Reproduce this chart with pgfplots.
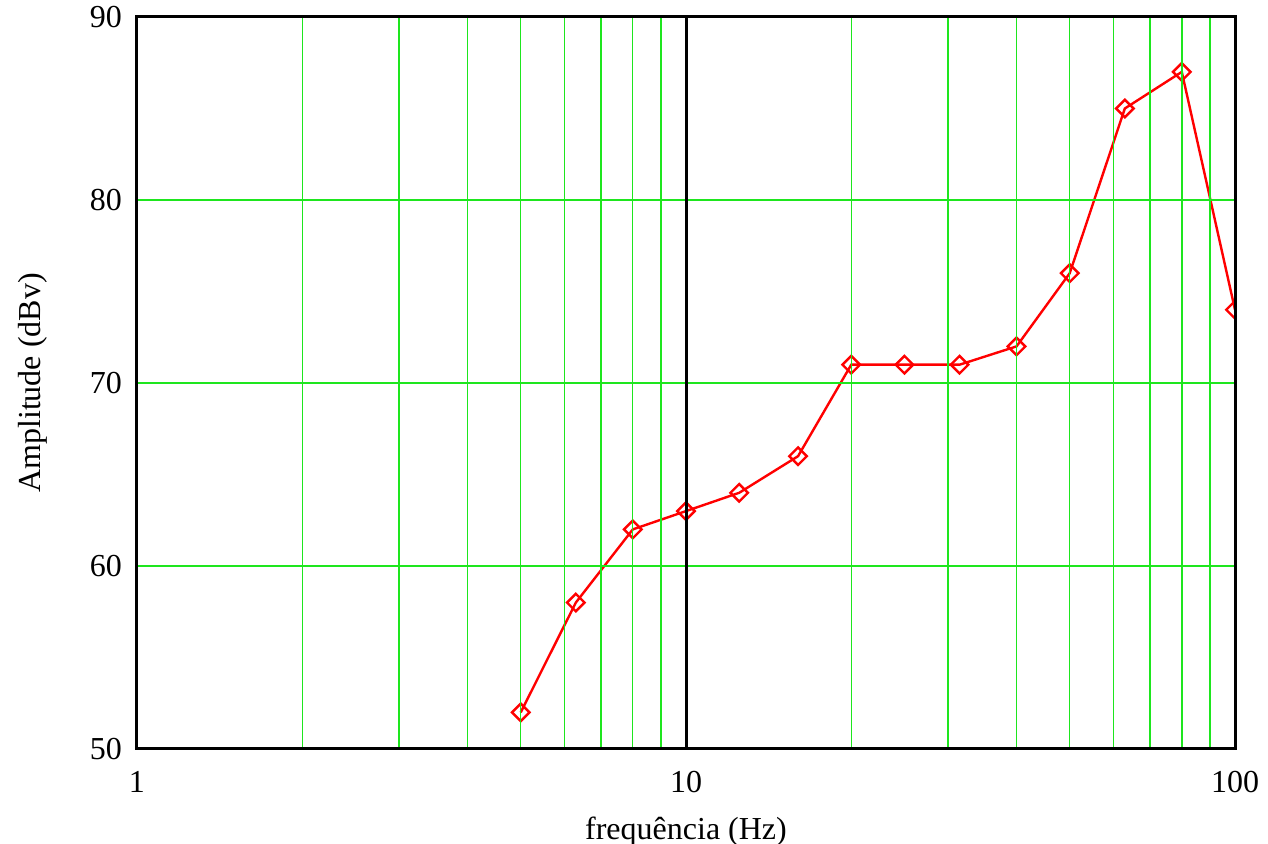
\documentclass[border=0pt]{standalone}
\usepackage{fontspec}
\setmainfont{Liberation Serif}
\usepackage{pgfplots}
\pgfplotsset{compat=1.18}
\definecolor{gridgreen}{RGB}{30,230,30}
\begin{document}
\begin{tikzpicture}
\fontsize{16}{19}\selectfont
\begin{axis}[
  at={(0,0)}, anchor=south west,
  scale only axis, width=549pt, height=366pt,
  xmode=log, xmin=1, xmax=100, ymin=50, ymax=90,
  log basis x=10,
  xtick={1,10,100}, xticklabels={1,10,100},
  ytick={50,60,70,80,90},
  minor xtick={2,3,4,5,6,7,8,9,20,30,40,50,60,70,80,90},
  xminorgrids, ymajorgrids,
  major grid style={draw=gridgreen, line width=0.7pt},
  minor grid style={draw=gridgreen, line width=0.7pt},
  extra x ticks={10}, extra x tick labels={},
  extra x tick style={grid=major, major grid style={draw=black, line width=1.5pt}},
  major tick length=0pt, minor tick length=0pt,
  axis line style={line width=1.5pt},
  /pgf/number format/assume math mode=true,
  ticklabel style={font=\fontsize{16}{19}\selectfont},
  xticklabel style={yshift=-5.5pt},
  yticklabel style={xshift=-2pt},
  label style={font=\fontsize{16}{19}\selectfont},
  xlabel={frequência (Hz)},
  ylabel={Amplitude (dBv)},
  xlabel style={yshift=-1.5pt},
  ylabel style={yshift=10.5pt},
  clip marker paths=true,
  axis on top,
]
\addplot[red, line width=1.2pt, mark=square, mark size=3.1pt,
  mark options={rotate=45, solid, line width=1.2pt}]
  coordinates {
  (5,52) (6.3,58) (8,62) (10,63) (12.5,64) (16,66) (20,71) (25,71)
  (31.5,71) (40,72) (50,76) (63,85) (80,87) (100,74)
  };
\end{axis}
\pgfresetboundingbox
\path[use as bounding box] (-68.5pt,-47.5pt) rectangle (565.5pt,374.5pt);
\end{tikzpicture}
\end{document}
